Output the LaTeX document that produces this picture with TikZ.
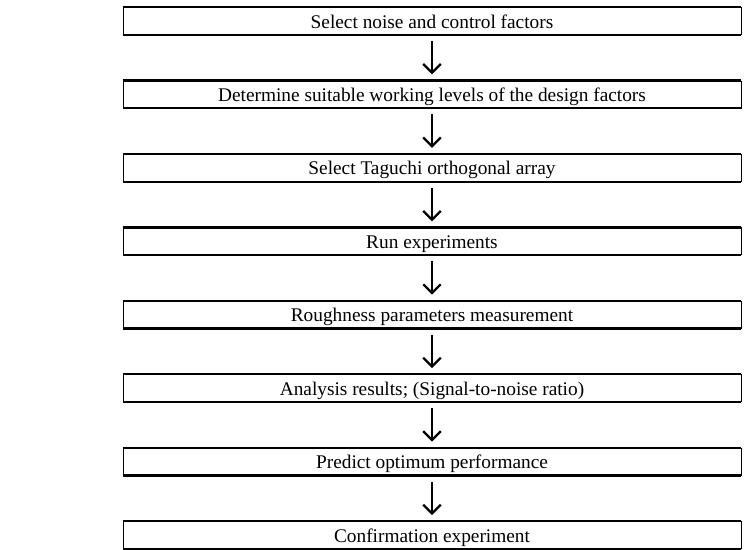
\documentclass[tikz,border=0pt]{standalone}
\usepackage{fontspec}
\setmainfont{Liberation Serif}
\usetikzlibrary{arrows.meta}

\begin{document}
\begin{tikzpicture}[x=0.02cm,y=-0.02cm,%
stage/.style={draw,line width=0.4pt,minimum width=12.36cm,minimum height=0.54cm,inner sep=0pt,
  text height=1em,text depth=0.2em,font=\fontsize{11}{13}\selectfont,
  append after command={(\tikzlastnode.north west) edge[line width=1.4pt] (\tikzlastnode.north east)
    (\tikzlastnode.south west) edge[line width=1.4pt] (\tikzlastnode.south east)}},
arrow/.style={draw,line width=1.3pt,-{Straight Barb[length=5pt,width=10pt,line width=1.3pt]},shorten <=3.5pt,shorten >=3.5pt}
]
\useasboundingbox (0,0) rectangle (752,549);
\node[style=stage] (noise) at (432,21) {Select noise and control factors};
\node[style=stage] (levels) at (432,94.4) {Determine suitable working levels of the design factors};
\node[style=stage] (array) at (432,167.9) {Select Taguchi orthogonal array};
\node[style=stage] (runs) at (432,241.3) {Run experiments};
\node[style=stage] (rough) at (432,314.7) {Roughness parameters measurement};
\node[style=stage] (analysis) at (432,388.1) {Analysis results; (Signal-to-noise ratio)};
\node[style=stage] (predict) at (432,461.6) {Predict optimum performance};
\node[style=stage] (confirm) at (432,535) {Confirmation experiment};
\path[style=arrow] (noise) -- (levels);
\path[style=arrow] (levels) -- (array);
\path[style=arrow] (array) -- (runs);
\path[style=arrow] (runs) -- (rough);
\path[style=arrow] (rough) -- (analysis);
\path[style=arrow] (analysis) -- (predict);
\path[style=arrow] (predict) -- (confirm);
\end{tikzpicture}
\end{document}
